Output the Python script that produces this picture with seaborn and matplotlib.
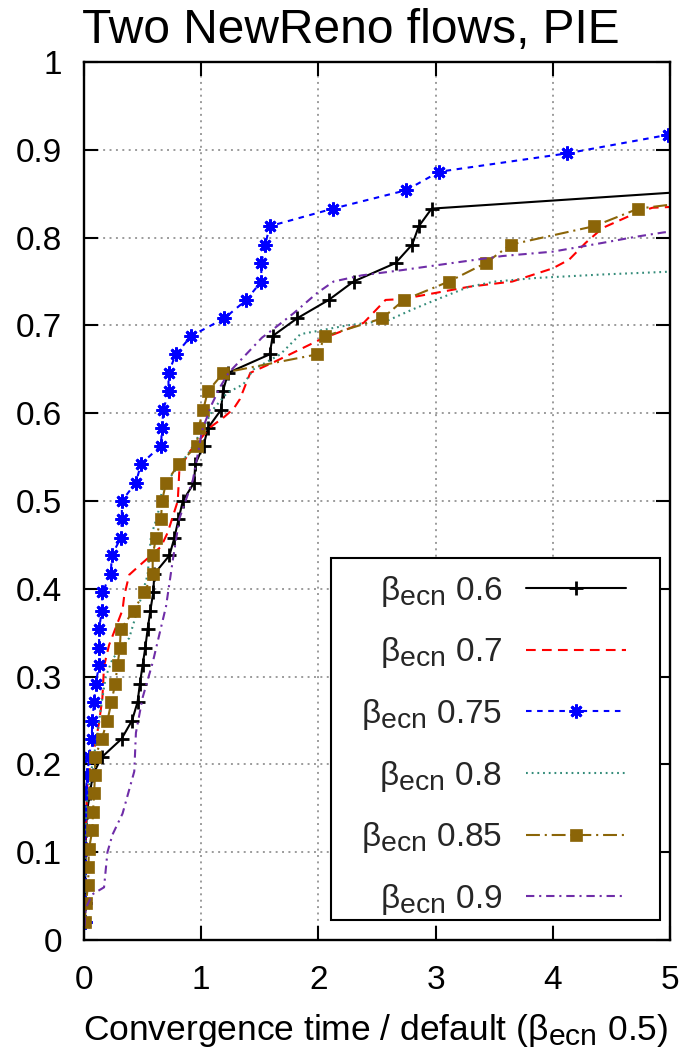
import matplotlib
matplotlib.use("Agg")
import matplotlib.pyplot as plt
import matplotlib._mathtext as _mt
from matplotlib.patches import Rectangle
from matplotlib.transforms import IdentityTransform
import seaborn as sns

# ---------------- data ----------------
title = "Two NewReno flows, PIE"
x_label = "Convergence time / default ($β_{ecn}$ 0.5)"
x_ticks = [0, 1, 2, 3, 4, 5]
y_ticks = [0, 0.1, 0.2, 0.3, 0.4, 0.5, 0.6, 0.7, 0.8, 0.9, 1.0]
x_tick_labels = ["0", "1", "2", "3", "4", "5"]
y_tick_labels = ["0", "0.1", "0.2", "0.3", "0.4", "0.5", "0.6", "0.7", "0.8", "0.9", "1"]

labels = ["$β_{ecn}$ 0.6", "$β_{ecn}$ 0.7", "$β_{ecn}$ 0.75",
          "$β_{ecn}$ 0.8", "$β_{ecn}$ 0.85", "$β_{ecn}$ 0.9"]

# beta 0.6 (black, + markers)
b06_x = [0.005, 0.008, 0.010, 0.012, 0.015, 0.018, 0.025, 0.050, 0.075, 0.150,
         0.320, 0.410, 0.457, 0.477, 0.500, 0.523, 0.543, 0.566, 0.591, 0.600,
         0.729, 0.771, 0.806, 0.843, 0.940, 0.949, 1.020, 1.057, 1.170, 1.185,
         1.230, 1.584, 1.610, 1.818, 2.088, 2.300, 2.658, 2.800, 2.857, 2.966,
         5.330]
b06_y = [0.021, 0.042, 0.063, 0.083, 0.104, 0.125, 0.146, 0.167, 0.188, 0.208,
         0.229, 0.250, 0.271, 0.292, 0.313, 0.333, 0.354, 0.375, 0.396, 0.417,
         0.438, 0.458, 0.479, 0.500, 0.521, 0.542, 0.563, 0.583, 0.604, 0.625,
         0.646, 0.667, 0.688, 0.708, 0.729, 0.750, 0.771, 0.792, 0.813, 0.833,
         0.854]

# beta 0.7 (red dashed)
b07_x = [0.005, 0.010, 0.015, 0.029, 0.057, 0.086, 0.129, 0.157, 0.171, 0.214,
         0.329, 0.343, 0.386, 0.486, 0.657, 0.714, 0.800, 0.814, 0.900, 1.077,
         1.190, 1.276, 1.330, 1.419, 1.618, 2.017, 2.387, 2.573, 2.715, 3.000,
         3.285, 3.655, 4.000, 4.140, 4.280, 4.425, 4.710, 4.850, 5.200]
b07_y = [0.021, 0.080, 0.130, 0.176, 0.200, 0.216, 0.248, 0.276, 0.312, 0.336,
         0.376, 0.392, 0.416, 0.428, 0.448, 0.464, 0.500, 0.536, 0.556, 0.584,
         0.595, 0.605, 0.616, 0.646, 0.658, 0.684, 0.703, 0.729, 0.730, 0.737,
         0.744, 0.750, 0.765, 0.775, 0.794, 0.811, 0.828, 0.834, 0.836]

# beta 0.75 (blue, asterisk markers)
b075_x = [0.005, 0.006, 0.007, 0.008, 0.009, 0.010, 0.012, 0.014, 0.029, 0.043,
          0.066, 0.071, 0.086, 0.100, 0.129, 0.129, 0.129, 0.151, 0.157, 0.229,
          0.237, 0.314, 0.323, 0.323, 0.443, 0.486, 0.657, 0.665, 0.678, 0.721,
          0.721, 0.783, 0.915, 1.197, 1.385, 1.513, 1.513, 1.547, 1.584, 2.125,
          2.750, 3.030, 4.125, 4.980, 6.000]
b075_y = [0.021, 0.042, 0.063, 0.083, 0.104, 0.125, 0.146, 0.167, 0.188, 0.208,
          0.229, 0.250, 0.271, 0.292, 0.313, 0.333, 0.354, 0.375, 0.396, 0.417,
          0.438, 0.458, 0.479, 0.500, 0.521, 0.542, 0.563, 0.583, 0.604, 0.625,
          0.646, 0.667, 0.688, 0.708, 0.729, 0.750, 0.771, 0.792, 0.813, 0.833,
          0.854, 0.875, 0.896, 0.917, 0.938]

# beta 0.8 (green dotted)
b08_x = [0.005, 0.010, 0.020, 0.043, 0.071, 0.114, 0.143, 0.186, 0.243, 0.386,
         0.457, 0.500, 0.543, 0.571, 0.629, 0.671, 0.786, 0.900, 0.986, 1.105,
         1.220, 1.360, 1.447, 1.675, 1.846, 2.245, 2.600, 2.800, 3.000, 3.285,
         3.510, 3.855, 4.425, 4.966, 5.300]
b08_y = [0.021, 0.100, 0.150, 0.176, 0.200, 0.232, 0.264, 0.300, 0.320, 0.344,
         0.376, 0.396, 0.416, 0.460, 0.484, 0.516, 0.536, 0.556, 0.576, 0.605,
         0.623, 0.633, 0.650, 0.667, 0.690, 0.700, 0.706, 0.718, 0.729, 0.744,
         0.750, 0.754, 0.758, 0.761, 0.762]

# beta 0.85 (brown, square markers)
b085_x = [0.009, 0.014, 0.037, 0.037, 0.043, 0.071, 0.077, 0.086, 0.094, 0.094,
          0.151, 0.200, 0.234, 0.266, 0.286, 0.306, 0.314, 0.423, 0.514, 0.586,
          0.586, 0.614, 0.657, 0.666, 0.700, 0.809, 0.963, 0.977, 1.017, 1.057,
          1.190, 1.989, 2.060, 2.544, 2.730, 3.114, 3.427, 3.641, 4.353, 4.730,
          6.000]
b085_y = [0.021, 0.042, 0.063, 0.083, 0.104, 0.125, 0.146, 0.167, 0.188, 0.208,
          0.229, 0.250, 0.271, 0.292, 0.313, 0.333, 0.354, 0.375, 0.396, 0.417,
          0.438, 0.458, 0.479, 0.500, 0.521, 0.542, 0.563, 0.583, 0.604, 0.625,
          0.646, 0.667, 0.688, 0.708, 0.729, 0.750, 0.771, 0.792, 0.813, 0.833,
          0.854]

# beta 0.9 (purple dash-dot)
b09_x = [0.005, 0.014, 0.071, 0.171, 0.200, 0.243, 0.329, 0.429, 0.443, 0.500,
         0.586, 0.700, 0.757, 0.814, 0.929, 0.986, 1.006, 1.090, 1.162, 1.234,
         1.518, 1.618, 1.790, 1.990, 2.130, 2.370, 2.715, 3.140, 3.570, 4.000,
         4.425, 4.710, 4.950, 5.300]
b09_y = [0.016, 0.036, 0.052, 0.060, 0.100, 0.120, 0.144, 0.192, 0.236, 0.276,
         0.316, 0.380, 0.432, 0.480, 0.524, 0.564, 0.580, 0.610, 0.630, 0.646,
         0.686, 0.696, 0.714, 0.737, 0.750, 0.757, 0.763, 0.771, 0.779, 0.784,
         0.794, 0.801, 0.806, 0.810]

# ---------------- styling ----------------
sns.set_theme(style="white")
plt.rcParams["font.family"] = ["Liberation Sans", "DejaVu Sans"]
plt.rcParams["mathtext.fontset"] = "custom"
plt.rcParams["mathtext.rm"] = "Liberation Sans"
plt.rcParams["mathtext.it"] = "Liberation Sans"
plt.rcParams["mathtext.default"] = "regular"
plt.rcParams["lines.scale_dashes"] = False
_mt.SHRINK_FACTOR = 0.85  # gnuplot-like larger subscripts

fig = plt.figure(figsize=(6.84, 10.5), dpi=100)
ax = fig.add_axes([84 / 684, 1 - 940 / 1050, (670 - 84) / 684, (940 - 62) / 1050])

series = [
    (b06_x, b06_y, labels[0], "black", "-", "+", 10, 2.0),
    (b07_x, b07_y, labels[1], "#ff0000", (0, (7, 4.5)), None, 0, 0),
    (b075_x, b075_y, labels[2], "#0000ff", (0, (4, 4)), (8, 2, 0), 10, 2.0),
    (b08_x, b08_y, labels[3], "#348c7a", (0, (1.3, 2.8)), None, 0, 0),
    (b085_x, b085_y, labels[4], "#8b6508", (0, (10, 3.5, 1.5, 3.5)), "s", 8, 0.5),
    (b09_x, b09_y, labels[5], "#6f2da8", (0, (6, 3.5, 1.5, 3.5)), None, 0, 0),
]

for xs, ys, lab, col, ls, mk, ms, mew in series:
    kw = dict(x=xs, y=ys, ax=ax, color=col, linestyle=ls, linewidth=1.5,
              estimator=None, sort=False, label=lab)
    if mk is not None:
        kw.update(marker=mk, markersize=ms, markeredgewidth=mew,
                  markeredgecolor=col, markerfacecolor=col)
    sns.lineplot(**kw)

ax.set_xlim(0, 5)
ax.set_ylim(0, 1)
ax.set_xticks(x_ticks)
ax.set_xticklabels(x_tick_labels)
ax.set_yticks(y_ticks)
ax.set_yticklabels(y_tick_labels)
ax.set_xlabel("")
ax.set_ylabel("")

ax.grid(True, color="#808080", linestyle=(0, (1.4, 3.2)), linewidth=1.1)
ax.set_axisbelow(True)

for sp in ax.spines.values():
    sp.set_color("black")
    sp.set_linewidth(1.7)

ax.tick_params(axis="both", which="major", direction="in", length=10, width=1.5,
               bottom=True, left=True, top=True, right=True,
               labelsize=24, colors="black", labelcolor="black")
ax.tick_params(axis="y", pad=16)
ax.tick_params(axis="x", pad=18)

# legend content (gnuplot style: text first, right aligned), frame drawn around it
leg = ax.legend(loc="lower right", bbox_to_anchor=((626 - 84) / 586, (940 - 917) / 878),
                borderaxespad=0, markerfirst=False, fontsize=24, frameon=False,
                handlelength=3.0, handletextpad=0.72, labelspacing=0.8, borderpad=0)
leg.set_zorder(5)

fig.text(82 / 684, 1 - 43 / 1050, title, fontsize=34.5, ha="left", va="baseline",
         color="black")
fig.text(376 / 684, 1 - 1040 / 1050, x_label, fontsize=25.5, ha="center",
         va="baseline", color="black")

fig.canvas.draw()
bb = leg.get_window_extent(fig.canvas.get_renderer())
pad_l, pad_r, pad_t, pad_b = 30, 34, 16, 3
frame = Rectangle((bb.x0 - pad_l, bb.y0 - pad_b), bb.width + pad_l + pad_r,
                  bb.height + pad_t + pad_b, transform=IdentityTransform(),
                  facecolor="white", edgecolor="black", linewidth=1.5, zorder=4.5)
ax.add_artist(frame)
frame.set_clip_on(False)
frame.set_clip_path(None)

fig.savefig("out.png", dpi=100)
